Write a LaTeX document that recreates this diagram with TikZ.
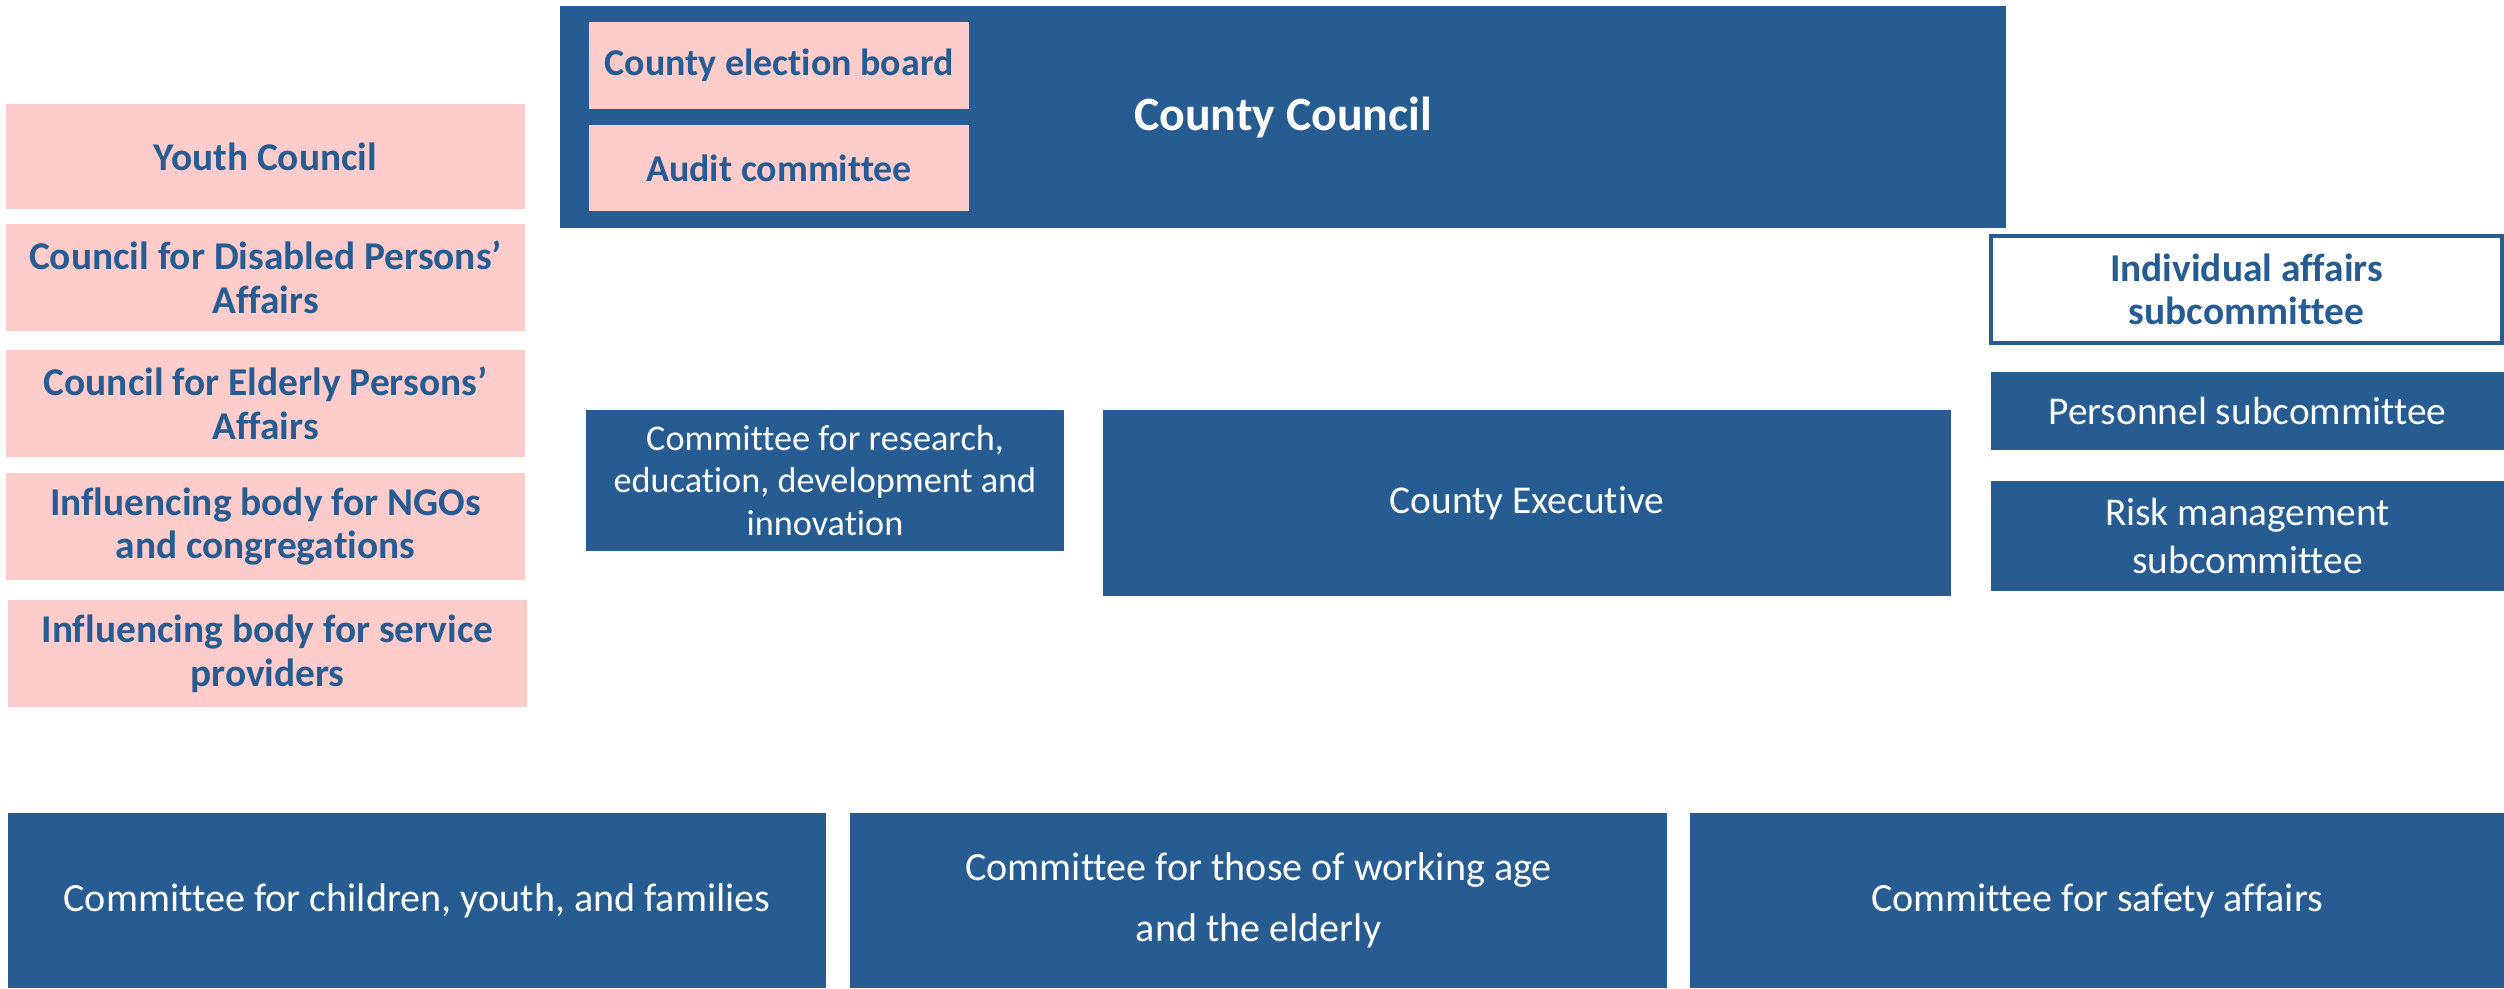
\documentclass[tikz,border=0pt]{standalone}
\usepackage{fontspec}
\setmainfont{Carlito}[Ligatures=CommonOff]
\usepackage{tikz}
\usetikzlibrary{positioning}
\definecolor{boardblue}{HTML}{275C92}
\definecolor{boardpink}{HTML}{FFCCCC}

\begin{document}
\begin{tikzpicture}[x=0.01cm, y=-0.01cm,
			box/.style={rectangle, inner sep=0pt, outer sep=0pt, align=center},
			bluebox/.style={box, fill=boardblue, text=white, font=\fontsize{11.2}{13.5}\selectfont},
			pinkbox/.style={box, fill=boardpink, text=boardblue, font=\bfseries\fontsize{11.2}{12.4}\selectfont},
			openbox/.style={box, fill=white, draw=boardblue, line width=1pt, text=boardblue, font=\bfseries\fontsize{11.2}{12.4}\selectfont}]

			\useasboundingbox (0,0) rectangle (2504,988);

			\node[bluebox, minimum width=1446*0.01cm, minimum height=222*0.01cm, font=\bfseries\fontsize{13.6}{15}\selectfont] (council) at (1283,117) {County Council};
			\node[pinkbox, minimum width=380*0.01cm, minimum height=87*0.01cm, font=\bfseries\fontsize{10.8}{12.4}\selectfont] (election) at (779,65.5) {County election board};
			\node[pinkbox, minimum width=380*0.01cm, minimum height=86*0.01cm, font=\bfseries\fontsize{10.8}{12.4}\selectfont] (audit) at (779,168) {Audit committee};

			\node[pinkbox, minimum width=519*0.01cm, minimum height=105*0.01cm] (youth) at (265.5,156.5) {Youth Council};
			\node[pinkbox, minimum width=519*0.01cm, minimum height=107*0.01cm] (disabled) at (265.5,277.5) {Council for Disabled Persons’\\Affairs};
			\node[pinkbox, minimum width=519*0.01cm, minimum height=107*0.01cm] (elderly) at (265.5,403.5) {Council for Elderly Persons’\\Affairs};
			\node[pinkbox, minimum width=519*0.01cm, minimum height=107*0.01cm] (ngo) at (265.5,526.5) {Influencing body for NGOs\\and congregations};
			\node[pinkbox, minimum width=519*0.01cm, minimum height=107*0.01cm] (providers) at (267.5,653.5) {Influencing body for service\\providers};

			\node[bluebox, minimum width=478*0.01cm, minimum height=141*0.01cm, font=\fontsize{10.3}{12.1}\selectfont] (research) at (825,480.5) {Committee for research,\\education, development and\\innovation};
			\node[bluebox, minimum width=848*0.01cm, minimum height=186*0.01cm] (executive) at (1527,503) {County Executive};

			\node[openbox, minimum width=511*0.01cm, minimum height=107*0.01cm] (individual) at (2246.5,289.5) {Individual affairs\\subcommittee};
			\node[bluebox, minimum width=513*0.01cm, minimum height=78*0.01cm] (personnel) at (2247.5,411) {Personnel subcommittee};
			\node[bluebox, minimum width=513*0.01cm, minimum height=110*0.01cm] (risk) at (2247.5,536) {Risk management\\subcommittee};

			\node[bluebox, minimum width=818*0.01cm, minimum height=175*0.01cm, font=\fontsize{11.4}{14}\selectfont] (children) at (417,900.5) {Committee for children, youth, and families};
			\node[bluebox, minimum width=817*0.01cm, minimum height=175*0.01cm, font=\fontsize{11.4}{17.4}\selectfont] (working) at (1258.5,900.5) {Committee for those of working age\\and the elderly};
			\node[bluebox, minimum width=814*0.01cm, minimum height=175*0.01cm, font=\fontsize{11.4}{14}\selectfont] (safety) at (2097,900.5) {Committee for safety affairs};
		\end{tikzpicture}
\end{document}
